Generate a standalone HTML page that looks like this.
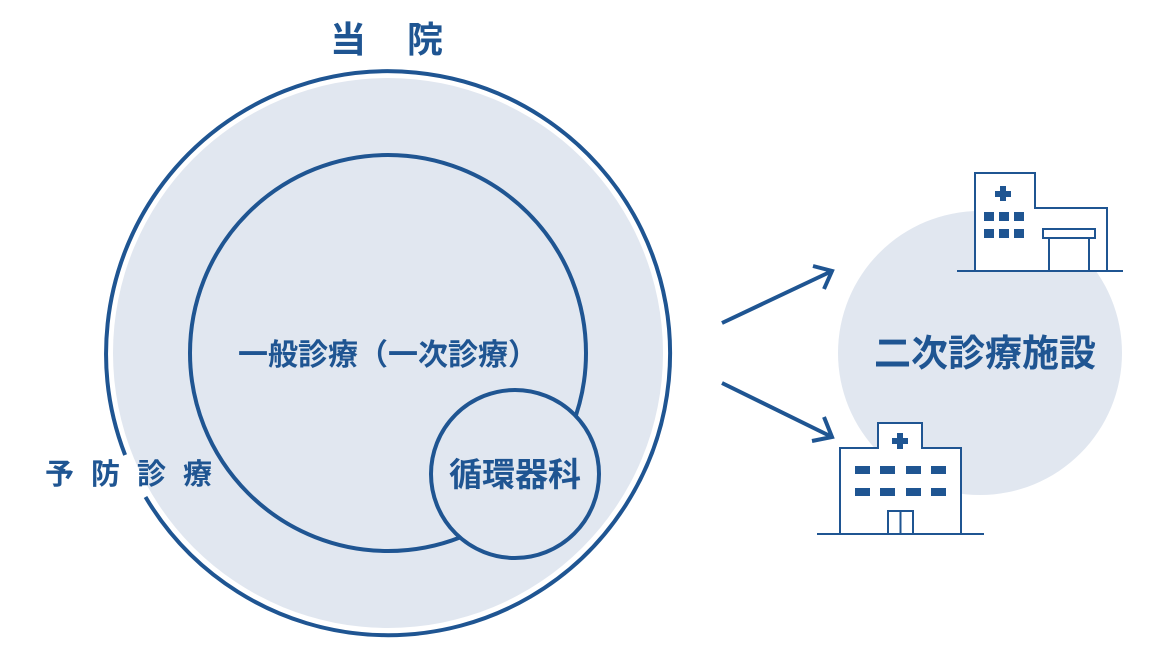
<!DOCTYPE html>
<html><head><meta charset="utf-8"><style>
body{margin:0;background:#fff;}
svg text{font-family:"Liberation Sans","Noto Sans CJK JP",sans-serif;fill:#1f5592;font-weight:bold;}
</style></head><body>
<svg width="1160" height="652" viewBox="0 0 1160 652" xmlns="http://www.w3.org/2000/svg">
<circle cx="388" cy="353" r="275" fill="#e1e7f0"/>
<path d="M 125.1 455 A 282 282 0 1 1 145.5 497" fill="none" stroke="#1f5592" stroke-width="4"/>
<circle cx="388" cy="353" r="198" fill="none" stroke="#1f5592" stroke-width="4"/>
<circle cx="515" cy="474" r="84" fill="#e1e7f0" stroke="#1f5592" stroke-width="4"/>
<text x="330" y="52" font-size="36" letter-spacing="41">当院</text>
<text x="388" y="365" font-size="30" text-anchor="middle">一般診療（一次診療）</text>
<text x="515" y="486" font-size="33" text-anchor="middle">循環器科</text>
<text x="45" y="484" font-size="29" letter-spacing="17">予防診療</text>
<circle cx="980" cy="353" r="142" fill="#e1e7f0"/>
<text x="985" y="366" font-size="37" text-anchor="middle">二次診療施設</text>
<g stroke="#1f5592" stroke-width="4" fill="none">
<line x1="722" y1="323" x2="832" y2="271"/><polyline points="813,266 832,271 824,289"/>
<line x1="722" y1="383" x2="832" y2="437"/><polyline points="824,417 832,437 812,441"/>
</g>
<g stroke="#1f5592" stroke-width="2" fill="#fff">
<path d="M975 271 V173 H1035 V208 H1107 V271"/>
<line x1="957" y1="271" x2="1123" y2="271"/>
<rect x="1043" y="229" width="52" height="9"/>
<path d="M1049 238 V271 M1089 238 V271" fill="none"/>
<path d="M840 534 V448 H878 V423 H922 V448 H961 V534"/>
<line x1="817" y1="534" x2="984" y2="534"/>
<rect x="888" y="511" width="25" height="23"/><line x1="900.5" y1="511" x2="900.5" y2="534"/>
</g>
<g fill="#1f5592">
<rect x="1000" y="186" width="6" height="15"/><rect x="995" y="191" width="16" height="6"/>
<rect x="984" y="212" width="10" height="9"/><rect x="999" y="212" width="10" height="9"/><rect x="1014" y="212" width="10" height="9"/>
<rect x="984" y="229" width="10" height="9"/><rect x="999" y="229" width="10" height="9"/><rect x="1014" y="229" width="10" height="9"/>
<rect x="897" y="433" width="6" height="16"/><rect x="892" y="438" width="16" height="6"/>
<rect x="855" y="466" width="15" height="8"/><rect x="880" y="466" width="15" height="8"/><rect x="906" y="466" width="15" height="8"/><rect x="931" y="466" width="15" height="8"/>
<rect x="855" y="488" width="15" height="8"/><rect x="880" y="488" width="15" height="8"/><rect x="906" y="488" width="15" height="8"/><rect x="931" y="488" width="15" height="8"/>
</g>
</svg>
</body></html>
